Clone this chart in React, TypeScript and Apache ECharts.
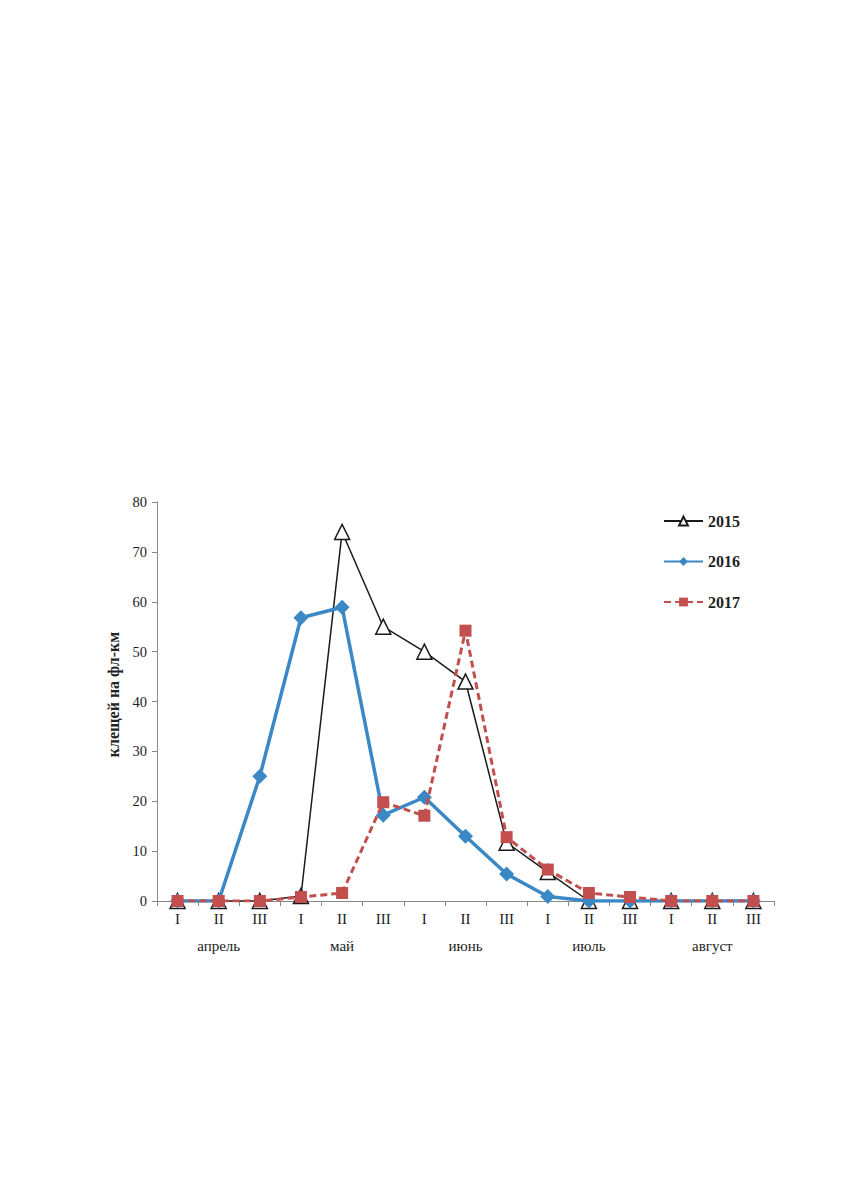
import React, { useEffect, useRef } from "react";
import * as echarts from "echarts";

const decades = ["I", "II", "III", "I", "II", "III", "I", "II", "III", "I", "II", "III", "I", "II", "III"];
const months = ["апрель", "май", "июнь", "июль", "август"];
const yTicks = [0, 10, 20, 30, 40, 50, 60, 70, 80];
const s2015 = [0, 0, 0, 1, 74, 55, 50, 44, 11.7, 5.8, 0, 0, 0, 0, 0];
const s2016 = [0, 0, 25, 56.8, 58.9, 17.2, 20.8, 13, 5.4, 0.9, 0, 0, 0, 0, 0];
const s2017 = [0, 0, 0, 0.8, 1.6, 19.8, 17.1, 54.2, 12.8, 6.3, 1.6, 0.8, 0, 0, 0];

const FONT = "Liberation Serif";

export default function App() {
  const ref = useRef<HTMLDivElement>(null);
  useEffect(() => {
    document.body.style.margin = "0";
    const chart = echarts.init(ref.current!, null, { renderer: "svg" });
    chart.setOption({
      animation: false,
      textStyle: { fontFamily: FONT },
      grid: { left: 157, top: 502, right: 76, bottom: 290, containLabel: false },
      legend: {
        orient: "vertical",
        left: 663,
        top: 513,
        padding: 0,
        itemWidth: 39,
        itemHeight: 11,
        itemGap: 24.5,
        textStyle: { fontFamily: FONT, fontSize: 16, fontWeight: "bold", color: "#222" },
        data: ["2015", "2016", "2017"],
      },
      xAxis: [
        {
          type: "category",
          data: decades,
          boundaryGap: true,
          axisLine: { lineStyle: { color: "#888", width: 1 } },
          axisTick: { show: true, length: 5, lineStyle: { color: "#888" } },
          axisLabel: { color: "#222", fontSize: 15, fontFamily: FONT, margin: 10, interval: 0 },
        },
        {
          type: "category",
          data: months,
          position: "bottom",
          offset: 27,
          boundaryGap: true,
          axisLine: { show: false },
          axisTick: { show: false },
          axisLabel: { color: "#222", fontSize: 15, fontFamily: FONT, margin: 10, interval: 0 },
        },
      ],
      yAxis: {
        type: "value",
        min: 0,
        max: 80,
        interval: 10,
        name: "клещей на фл-км",
        nameLocation: "middle",
        nameGap: 36,
        nameRotate: 90,
        nameTextStyle: { fontFamily: FONT, fontSize: 16, fontWeight: "bold", color: "#222", padding: [0, 0, 0, 14] },
        splitLine: { show: false },
        axisLine: { show: true, lineStyle: { color: "#888", width: 1 } },
        axisTick: { show: true, length: 5, lineStyle: { color: "#888" } },
        axisLabel: {
          color: "#222",
          fontSize: 14.5,
          fontFamily: FONT,
          margin: 10,
          formatter: (v: number) => (yTicks.includes(v) ? String(v) : ""),
        },
      },
      series: [
        {
          name: "2015",
          type: "line",
          data: s2015,
          symbol: "triangle",
          symbolSize: 15,
          lineStyle: { color: "#1a1a1a", width: 1.5 },
          itemStyle: { color: "#fff", borderColor: "#1a1a1a", borderWidth: 1.5 },
          z: 2,
        },
        {
          name: "2016",
          type: "line",
          data: s2016,
          symbol: "diamond",
          symbolSize: 15,
          lineStyle: { color: "#3a88c5", width: 3.5 },
          itemStyle: { color: "#3a88c5" },
          z: 3,
        },
        {
          name: "2017",
          type: "line",
          data: s2017,
          symbol: "rect",
          symbolSize: 12,
          lineStyle: { color: "#c24f4d", width: 3, type: [7, 4] },
          itemStyle: { color: "#c24f4d" },
          z: 4,
        },
      ],
    });
    return () => chart.dispose();
  }, []);
  return <div ref={ref} style={{ width: 850, height: 1191 }} />;
}
